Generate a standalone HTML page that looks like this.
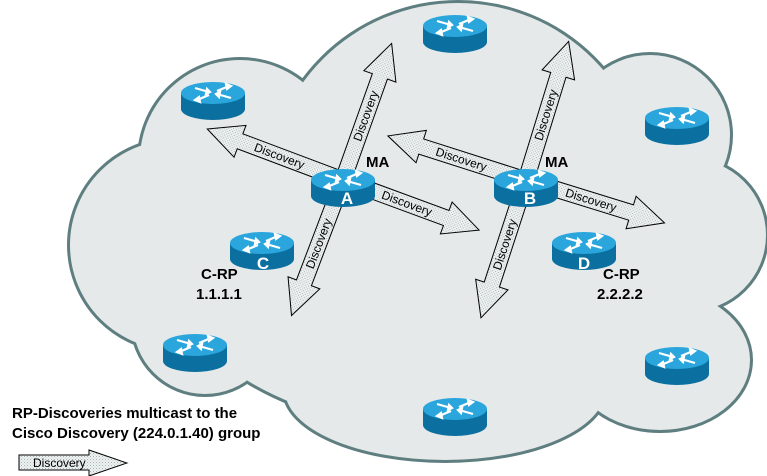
<!DOCTYPE html>
<html><head><meta charset="utf-8"><style>
html,body{margin:0;padding:0;background:#fff;width:767px;height:476px;overflow:hidden}
text{font-family:"Liberation Sans",Arial,sans-serif}
</style></head><body>
<svg width="767" height="476" viewBox="0 0 767 476" xmlns="http://www.w3.org/2000/svg">
<defs>
<pattern id="dots" width="3" height="3" patternUnits="userSpaceOnUse">
<rect width="3" height="3" fill="#eef2f2"/><rect x="0" y="0" width="1" height="1" fill="#a8b0b0"/><rect x="1.5" y="1.5" width="1" height="1" fill="#c0c8c8"/>
</pattern>
<g id="cloudshapes">
<circle cx="458" cy="194" r="191"/>
<circle cx="240" cy="160" r="100"/>
<circle cx="175" cy="245" r="105"/>
<circle cx="205" cy="322" r="72"/>
<ellipse cx="445" cy="390" rx="160" ry="70"/>
<ellipse cx="660" cy="360" rx="90" ry="70"/>
<circle cx="690" cy="235" r="76"/>
<circle cx="650" cy="135" r="80"/>
<ellipse cx="440" cy="250" rx="280" ry="180"/>
</g>
<g id="router">
<path d="M-32,0 v16 a32,11 0 0 0 64,0 v-16 z" fill="#0b6f9f"/>
<ellipse cx="0" cy="0" rx="32" ry="11" fill="#2aa6dd"/>
<g stroke="#fff" stroke-width="2.2" fill="#fff">
<path d="M-18,-5 L-4,-1" /><path d="M-6,-4 L-3,-1 L-7,1 z"/>
<path d="M18,5 L4,1"/><path d="M6,4 L3,1 L7,-1 z"/>
<path d="M4,-2 L16,-7"/><path d="M13,-9 L18,-7 L14,-4 z"/>
<path d="M-4,2 L-16,7"/><path d="M-13,9 L-18,7 L-14,4 z"/>
</g>
</g>
<path id="arr" d="M0,-8 H110 V-17 L145,0 L110,17 V8 H0 Z" fill="url(#dots)" stroke="#000" stroke-width="1"/>
</defs>

<g fill="#5e7e80" stroke="#5e7e80" stroke-width="6"><use href="#cloudshapes"/></g>
<g fill="#e5e9e9"><use href="#cloudshapes"/></g>

<g font-size="12" text-anchor="middle">
<g transform="translate(343,180) rotate(-70.4)"><use href="#arr"/><text x="68" y="4">Discovery</text></g>
<g transform="translate(343,180) rotate(200.6)"><use href="#arr"/><text x="68" y="4" transform="rotate(180,68,0)">Discovery</text></g>
<g transform="translate(343,180) rotate(20.2)"><use href="#arr"/><text x="68" y="4">Discovery</text></g>
<g transform="translate(343,180) rotate(110.8)"><use href="#arr"/><text x="68" y="4" transform="rotate(180,68,0)">Discovery</text></g>
<g transform="translate(526,180) rotate(-72.9)"><use href="#arr"/><text x="68" y="4">Discovery</text></g>
<g transform="translate(526,180) rotate(197.7)"><use href="#arr"/><text x="68" y="4" transform="rotate(180,68,0)">Discovery</text></g>
<g transform="translate(526,180) rotate(17.2)"><use href="#arr"/><text x="68" y="4">Discovery</text></g>
<g transform="translate(526,180) rotate(108.1)"><use href="#arr"/><text x="68" y="4" transform="rotate(180,68,0)">Discovery</text></g>
</g>

<use href="#router" x="455" y="26"/>
<use href="#router" x="213" y="93"/>
<use href="#router" x="677" y="118"/>
<use href="#router" x="343" y="180"/>
<use href="#router" x="526" y="180"/>
<use href="#router" x="262" y="243"/>
<use href="#router" x="584" y="243"/>
<use href="#router" x="195" y="345"/>
<use href="#router" x="677" y="358"/>
<use href="#router" x="455" y="409"/>

<g font-weight="bold" font-size="15" fill="#000">
<text x="366" y="167">MA</text>
<text x="545" y="167">MA</text>
<text x="201" y="279">C-RP</text>
<text x="196" y="299">1.1.1.1</text>
<text x="603" y="279">C-RP</text>
<text x="597" y="299">2.2.2.2</text>
<text x="12" y="418">RP-Discoveries multicast to the</text>
<text x="12" y="438">Cisco Discovery (224.0.1.40) group</text>
</g>
<g font-weight="bold" font-size="17" fill="#fff" text-anchor="middle">
<text x="347" y="204">A</text>
<text x="530" y="204">B</text>
<text x="263" y="269">C</text>
<text x="584" y="269">D</text>
</g>

<path d="M19,455 H89 V450 L127,463 L89,476 V470 H19 Z" fill="url(#dots)" stroke="#000" stroke-width="1"/>
<text x="33" y="467" font-size="12">Discovery</text>
</svg>
</body></html>
